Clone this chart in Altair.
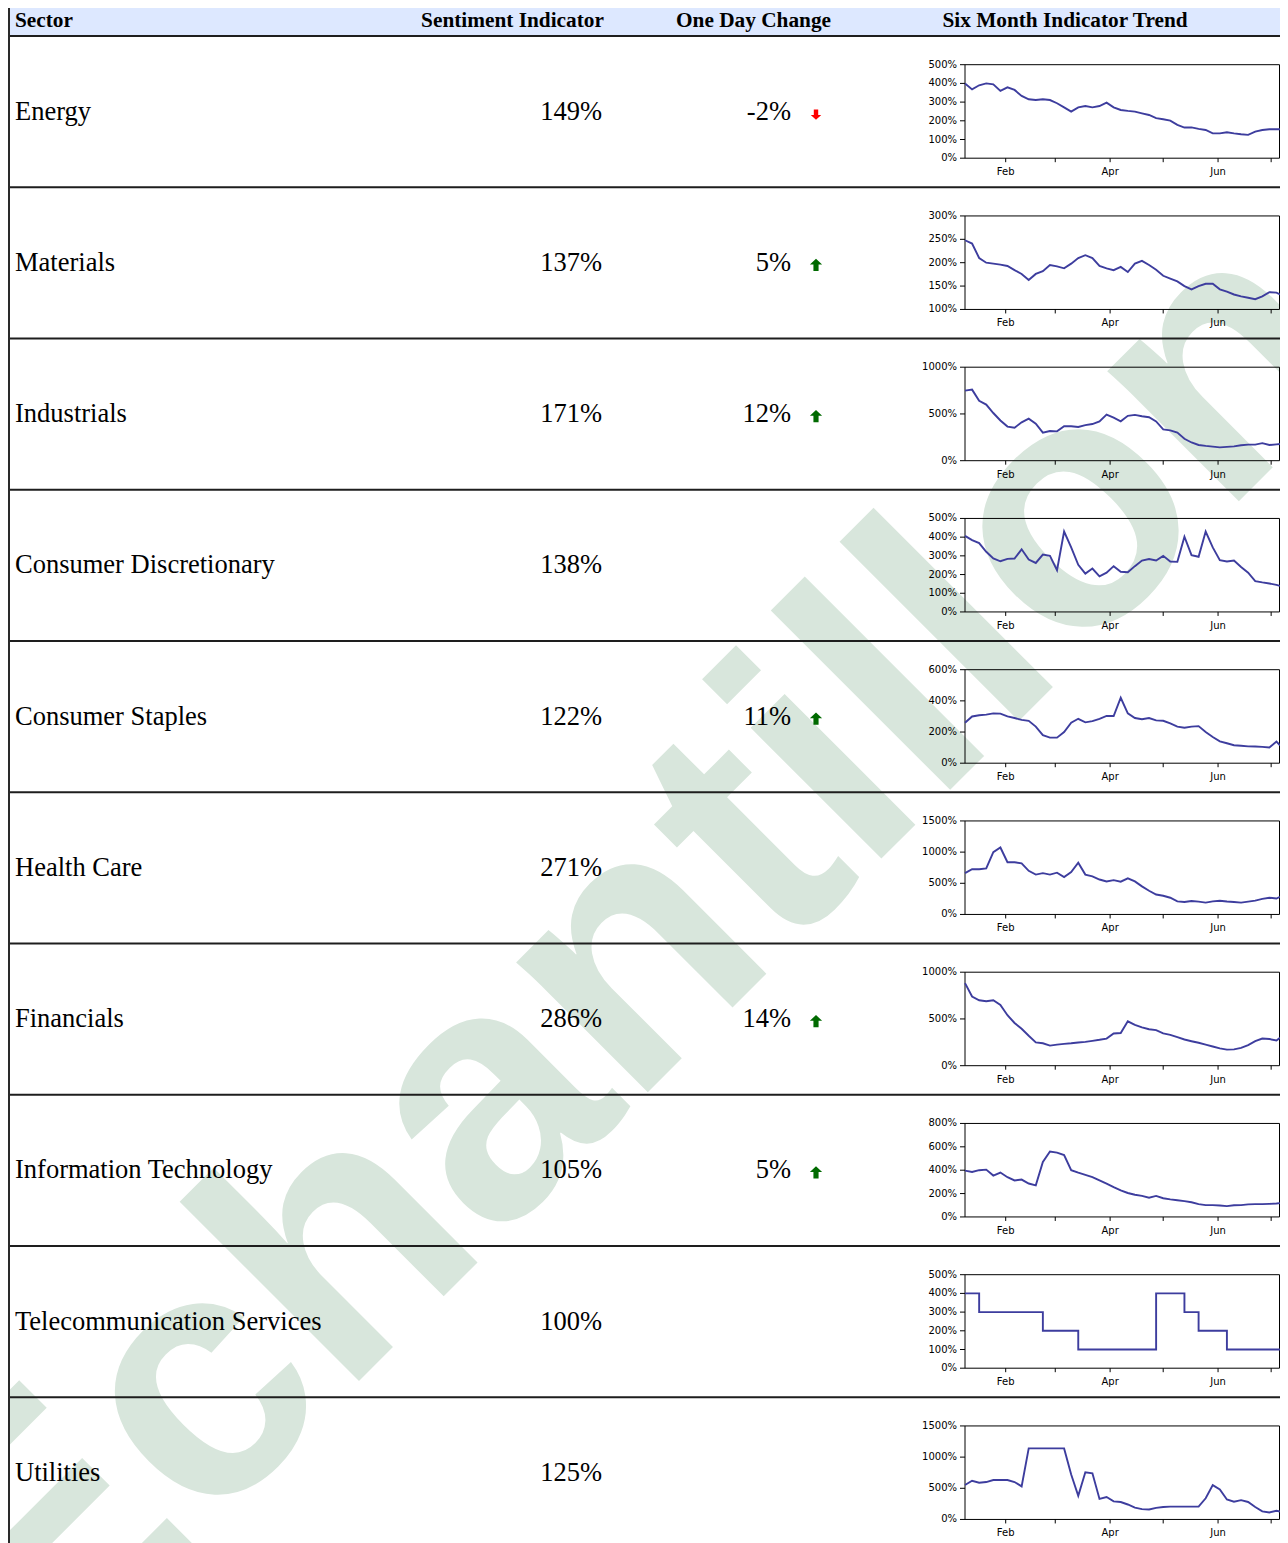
import altair as alt
import pandas as pd

# ---------------- data ----------------
sectors = ["Energy", "Materials", "Industrials", "Consumer Discretionary",
           "Consumer Staples", "Health Care", "Financials",
           "Information Technology", "Telecommunication Services", "Utilities"]
sentiment = [149, 137, 171, 138, 122, 271, 286, 105, 100, 125]
one_day_change = [-2, 5, 12, None, 11, None, 14, 5, None, None]

header_labels = ["Sector", "Sentiment Indicator", "One Day Change",
                 "Six Month Indicator Trend"]

month_ticks = ["2011-02-01", "2011-03-01", "2011-04-01", "2011-05-01",
               "2011-06-01", "2011-07-01"]
month_labels = ["Feb", "", "Apr", "", "Jun", ""]

trend_dates = [
    "2011-01-09", "2011-01-13", "2011-01-17", "2011-01-21", "2011-01-25",
    "2011-01-29", "2011-02-02", "2011-02-06", "2011-02-10", "2011-02-14",
    "2011-02-18", "2011-02-22", "2011-02-26", "2011-03-02", "2011-03-06",
    "2011-03-10", "2011-03-14", "2011-03-18", "2011-03-22", "2011-03-26",
    "2011-03-30", "2011-04-03", "2011-04-07", "2011-04-11", "2011-04-15",
    "2011-04-19", "2011-04-23", "2011-04-27", "2011-05-01", "2011-05-05",
    "2011-05-09", "2011-05-13", "2011-05-17", "2011-05-21", "2011-05-25",
    "2011-05-29", "2011-06-02", "2011-06-06", "2011-06-10", "2011-06-14",
    "2011-06-18", "2011-06-22", "2011-06-26", "2011-06-30", "2011-07-04",
    "2011-07-06",
]

energy = [400, 368, 390, 400, 395, 360, 379, 365, 333, 315, 311, 315, 311, 294,
          272, 249, 272, 279, 272, 279, 297, 272, 258, 253, 249, 240, 231, 214,
          208, 201, 178, 164, 165, 157, 151, 133, 133, 139, 133, 128, 125, 142,
          151, 155, 155, 155]
materials = [248, 241, 210, 200, 198, 196, 193, 184, 176, 163, 176, 182, 195,
             192, 188, 198, 210, 216, 210, 193, 188, 184, 191, 180, 198, 204,
             195, 185, 172, 166, 160, 150, 143, 150, 155, 155, 143, 138, 132,
             128, 125, 122, 128, 137, 136, 132]
industrials = [750, 760, 640, 600, 510, 430, 365, 352, 410, 450, 396, 300, 318,
               314, 368, 368, 360, 380, 392, 421, 493, 460, 421, 480, 490, 475,
               465, 420, 335, 325, 300, 235, 195, 168, 158, 150, 143, 148, 153,
               165, 172, 172, 188, 168, 175, 178]
cons_disc = [407, 384, 368, 322, 286, 271, 284, 286, 335, 280, 262, 307, 300,
             223, 430, 345, 252, 205, 232, 190, 210, 245, 215, 212, 245, 275,
             283, 275, 300, 270, 268, 402, 304, 295, 430, 345, 277, 270, 275,
             240, 210, 165, 158, 152, 145, 139]
cons_staples = [260, 300, 308, 312, 320, 318, 300, 290, 278, 272, 235, 180, 164,
                164, 200, 260, 285, 262, 270, 285, 303, 303, 420, 320, 290, 282,
                290, 275, 272, 255, 235, 228, 235, 238, 200, 168, 140, 128, 115,
                112, 108, 107, 105, 101, 139, 114]
health_care = [663, 726, 726, 740, 1000, 1074, 837, 837, 821, 700, 640, 663,
               640, 670, 600, 680, 830, 640, 610, 560, 530, 550, 525, 580, 530,
               450, 380, 320, 300, 268, 210, 200, 215, 205, 190, 210, 220, 208,
               200, 190, 205, 221, 250, 268, 255, 284]
financials = [883, 740, 700, 690, 700, 650, 540, 457, 395, 320, 250, 240, 215,
              225, 234, 240, 248, 255, 266, 277, 290, 345, 350, 475, 436, 410,
              390, 380, 345, 330, 305, 280, 262, 245, 225, 205, 185, 172, 175,
              190, 220, 262, 290, 285, 270, 298]
info_tech = [396, 385, 400, 405, 354, 380, 340, 312, 320, 286, 270, 470, 560,
             550, 530, 400, 379, 360, 340, 312, 285, 255, 227, 205, 190, 180,
             165, 180, 160, 150, 143, 135, 126, 110, 101, 101, 98, 93, 100, 101,
             108, 110, 110, 112, 115, 118]
telecom = [400, 400, 300, 300, 300, 300, 300, 300, 300, 300, 300, 200, 200, 200,
           200, 200, 100, 100, 100, 100, 100, 100, 100, 100, 100, 100, 100, 400,
           400, 400, 400, 300, 300, 200, 200, 200, 200, 100, 100, 100, 100, 100,
           100, 100, 100, 100]
utilities = [553, 620, 590, 600, 632, 632, 632, 600, 530, 1140, 1140, 1140,
             1140, 1140, 1140, 720, 380, 758, 740, 330, 360, 290, 280, 240, 190,
             165, 160, 185, 200, 205, 205, 205, 205, 205, 340, 550, 480, 320,
             285, 310, 280, 200, 130, 112, 140, 126]

trend_series = [energy, materials, industrials, cons_disc, cons_staples,
                health_care, financials, info_tech, telecom, utilities]
y_min = [0, 100, 0, 0, 0, 0, 0, 0, 0, 0]
y_max = [500, 300, 1000, 500, 600, 1500, 1000, 800, 500, 1500]
y_step = [100, 50, 500, 100, 200, 500, 500, 200, 100, 500]

# ---------------- styling / layout ----------------
LINE_COLOR = "#3d3d9e"
CHART_W = 1272
CHART_H = 1535
HEADER_BOTTOM = 27
ROW_TOP = 28
ROW_H = 151.25
SPARK_LEFT = 957
SPARK_RIGHT = 1272
SPARK_TOP0 = 56.7
SPARK_H = 93.5
SERIF = "Liberation Serif"
AXIS_FONT = "DejaVu Sans"


def utc(m, d):
    return alt.DateTime(year=2011, month=m, date=d, utc=True)


one = pd.DataFrame({"k": [0]})


def spark(i):
    top = SPARK_TOP0 + ROW_H * i
    bottom = top + SPARK_H
    xs = alt.Scale(type="utc", domain=[utc(1, 9), utc(7, 6)],
                   range=[SPARK_LEFT, SPARK_RIGHT])
    ys = alt.Scale(domain=[y_min[i], y_max[i]], range=[bottom, top],
                   nice=False, zero=False)
    line_df = pd.DataFrame({"date": trend_dates, "value": trend_series[i]})
    yt = list(range(y_min[i], y_max[i] + 1, y_step[i]))
    ytick_df = pd.DataFrame({"value": yt, "label": [f"{v}%" for v in yt]})
    xtick_df = pd.DataFrame({"date": month_ticks, "label": month_labels})

    interp = "step-after" if sectors[i] == "Telecommunication Services" else "linear"

    frame = alt.Chart(one).mark_rect(
        fillOpacity=0, stroke="black", strokeWidth=1
    ).encode(x=alt.value(SPARK_LEFT), x2=alt.value(SPARK_RIGHT - 0.5),
             y=alt.value(top), y2=alt.value(bottom))
    yticks = alt.Chart(ytick_df).mark_rule(color="black", strokeWidth=1).encode(
        y=alt.Y("value:Q", scale=ys, axis=None),
        x=alt.value(SPARK_LEFT - 5), x2=alt.value(SPARK_LEFT))
    ylabels = alt.Chart(ytick_df).mark_text(
        font=AXIS_FONT, fontSize=10, color="black", align="right",
        baseline="middle"
    ).encode(y=alt.Y("value:Q", scale=ys, axis=None),
             x=alt.value(SPARK_LEFT - 8), text="label:N")
    xticks = alt.Chart(xtick_df).mark_rule(color="black", strokeWidth=1).encode(
        x=alt.X("date:T", scale=xs, axis=None),
        y=alt.value(bottom), y2=alt.value(bottom + 4))
    xlabels = alt.Chart(xtick_df).transform_filter("datum.label != ''").mark_text(
        font=AXIS_FONT, fontSize=10, color="black", align="center",
        baseline="top"
    ).encode(x=alt.X("date:T", scale=xs, axis=None),
             y=alt.value(bottom + 9), text="label:N")
    line = alt.Chart(line_df).mark_line(
        color=LINE_COLOR, strokeWidth=1.9, interpolate=interp
    ).encode(x=alt.X("date:T", scale=xs, axis=None),
             y=alt.Y("value:Q", scale=ys, axis=None))
    return alt.layer(frame, yticks, ylabels, xticks, xlabels, line)


def row_y(pos):
    return alt.Y("sector:N", axis=None, bandPosition=pos,
                 scale=alt.Scale(type="band", domain=sectors,
                                 range=[ROW_TOP, ROW_TOP + 10 * ROW_H],
                                 paddingInner=0, paddingOuter=0))


table = pd.DataFrame({
    "sector": sectors,
    "sentiment_label": [f"{v}%" for v in sentiment],
    "change_label": ["" if c is None else f"{c}%" for c in one_day_change],
    "direction": ["none" if c is None else ("up" if c > 0 else "down")
                  for c in one_day_change],
})

UP = "M0,-1L1,-0.05L0.42,-0.05L0.42,1L-0.42,1L-0.42,-0.05L-1,-0.05Z"
DOWN = "M0,1L1,0.05L0.42,0.05L0.42,-1L-0.42,-1L-0.42,0.05L-1,0.05Z"

watermark = alt.Chart(one).mark_text(
    text="Echantillon", angle=315, fontSize=350, font="Liberation Sans",
    fontWeight="bold", color="#d8e6dc", align="left", baseline="alphabetic",
    clip=True
).encode(x=alt.value(31), y=alt.value(1693))

header_bg = alt.Chart(one).mark_rect(color="#dde8ff").encode(
    x=alt.value(0), x2=alt.value(CHART_W), y=alt.value(0),
    y2=alt.value(HEADER_BOTTOM))

row_lines = alt.Chart(table).mark_rule(color="#1e1e1e", strokeWidth=2.2).encode(
    y=row_y(0), x=alt.value(0), x2=alt.value(CHART_W))

left_border = alt.Chart(one).mark_rule(color="#2a2a2a", strokeWidth=2).encode(
    x=alt.value(1), y=alt.value(0), y2=alt.value(CHART_H))

header_pos = [(7, "left"), (504.5, "center"), (745.5, "center"), (1057, "center")]
header_layers = [
    alt.Chart(one).mark_text(text=lab, font=SERIF, fontWeight="bold",
                             fontSize=21.3, color="black", align=al,
                             baseline="middle").encode(
        x=alt.value(xp), y=alt.value(13))
    for lab, (xp, al) in zip(header_labels, header_pos)
]

sector_text = alt.Chart(table).mark_text(
    font=SERIF, fontSize=26.5, color="black", align="left", baseline="middle"
).encode(x=alt.value(7), y=row_y(0.5), text="sector:N")

sent_text = alt.Chart(table).mark_text(
    font=SERIF, fontSize=26.5, color="black", align="right", baseline="middle"
).encode(x=alt.value(594), y=row_y(0.5), text="sentiment_label:N")

change_text = alt.Chart(table).mark_text(
    font=SERIF, fontSize=26.5, color="black", align="right", baseline="middle"
).encode(x=alt.value(783), y=row_y(0.5), text="change_label:N")

arrow_up = alt.Chart(table).transform_filter("datum.direction == 'up'").mark_point(
    shape=UP, filled=True, size=150, color="#006a00", opacity=1, strokeWidth=0,
    yOffset=2
).encode(x=alt.value(808), y=row_y(0.5))

arrow_down = alt.Chart(table).transform_filter("datum.direction == 'down'").mark_point(
    shape=DOWN, filled=True, size=110, color="#ff0000", opacity=1, strokeWidth=0,
    yOffset=3
).encode(x=alt.value(808), y=row_y(0.5))

table_layer = alt.layer(
    header_bg, row_lines, left_border, *header_layers,
    sector_text, sent_text, change_text, arrow_up, arrow_down
)

chart = alt.layer(
    watermark, table_layer, *[spark(i) for i in range(len(sectors))]
).resolve_scale(
    x="independent", y="independent"
).properties(
    width=CHART_W, height=CHART_H, padding=0,
    autosize=alt.AutoSizeParams(type="none", contains="padding")
).configure_view(stroke="transparent")

chart.save("out.html", embed_options={"renderer": "svg", "actions": False})
